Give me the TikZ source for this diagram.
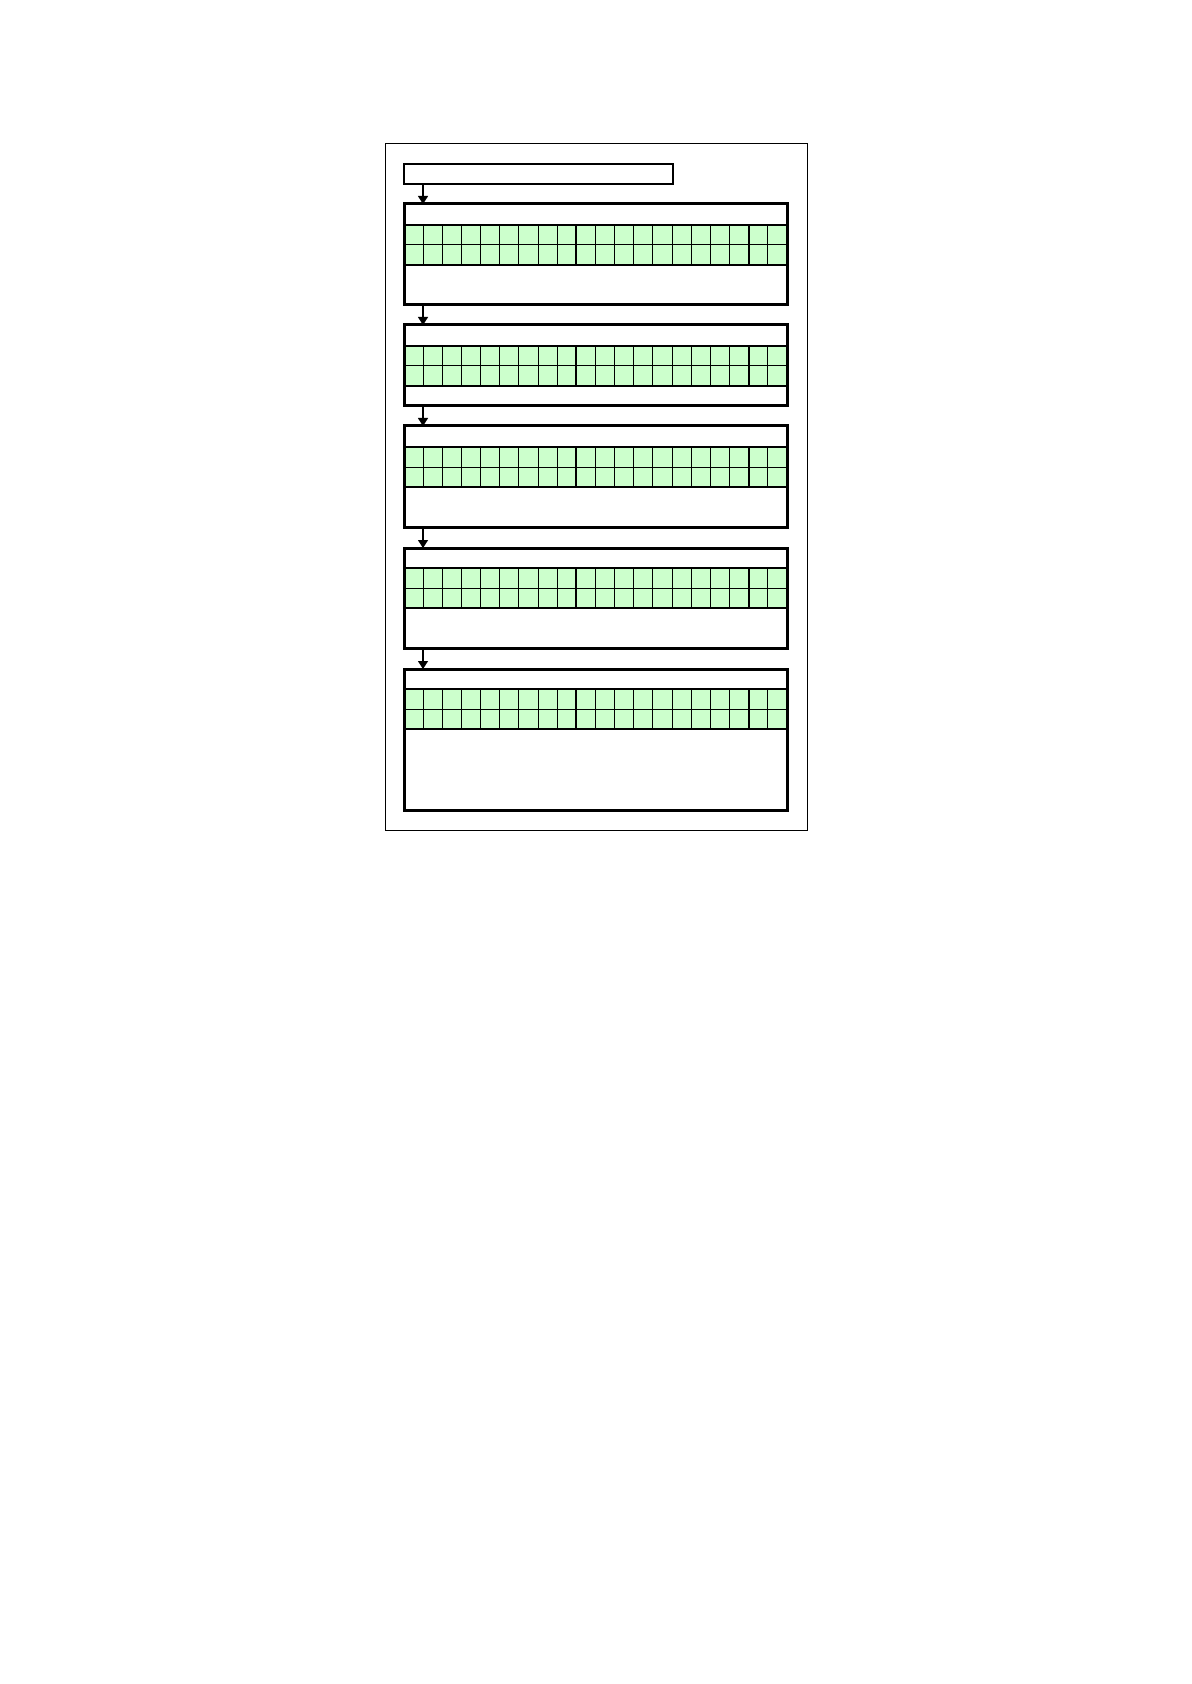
\documentclass[tikz,border=0pt]{standalone}
\usetikzlibrary{arrows.meta}
\definecolor{cellgreen}{RGB}{204,255,204}
\tikzset{
  frame/.style={draw, line width=0.5pt, inner sep=0pt, outer sep=0pt, anchor=north west},
  titlebox/.style={draw, line width=0.6pt, inner sep=0pt, outer sep=0pt, anchor=north west, minimum width=134.5pt, minimum height=10pt},
  stagebox/.style={draw, line width=1.5pt, inner sep=0pt, outer sep=0pt, anchor=north west, minimum width=191.5pt},
  cellline/.style={line width=0.5pt},
  divline/.style={line width=1pt},
  arr/.style={line width=0.6pt, -{Triangle[width=5pt,length=4pt]}}
}
\newcommand\stagegrid[3]{%
  \fill[cellgreen] (404,#1) rectangle (787,#3);
  \foreach \i in {1,...,19} \draw[cellline] ({404+\i*19.15},#1) -- ({404+\i*19.15},#3);
  \draw[cellline] (404,#2) -- (787,#2);
  \draw[divline] (404,#1) -- (787,#1);
  \draw[divline] (404,#3) -- (787,#3);
  \draw[divline] (576.35,#1) -- (576.35,#3);
  \draw[divline] (748.7,#1) -- (748.7,#3);
}
\begin{document}
\begin{tikzpicture}[x=0.5pt,y=-0.5pt]
\useasboundingbox (0,0) rectangle (1191,1684);
\node[frame, minimum width=211pt, minimum height=343pt] (outer) at (385,144) {};
\node[titlebox] (title) at (404,164) {};
\coordinate (ax) at (423,0);
% stage 1
\stagegrid{225}{245}{265}
\node[stagebox, minimum height=50.5pt] (s1) at (404,204) {};
% stage 2
\stagegrid{346}{366}{386}
\node[stagebox, minimum height=40.5pt] (s2) at (404,325) {};
% stage 3
\stagegrid{447}{467}{487}
\node[stagebox, minimum height=50.5pt] (s3) at (404,426) {};
% stage 4
\stagegrid{568}{588}{608}
\node[stagebox, minimum height=50pt] (s4) at (404,548) {};
% stage 5
\stagegrid{689}{709}{729}
\node[stagebox, minimum height=70.5pt] (s5) at (404,669) {};
% arrows
\draw[arr] (title.south -| ax) -- (s1.north -| ax);
\draw[arr] (s1.south -| ax) -- (s2.north -| ax);
\draw[arr] (s2.south -| ax) -- (s3.north -| ax);
\draw[arr] (s3.south -| ax) -- (s4.north -| ax);
\draw[arr] (s4.south -| ax) -- (s5.north -| ax);
\end{tikzpicture}
\end{document}
